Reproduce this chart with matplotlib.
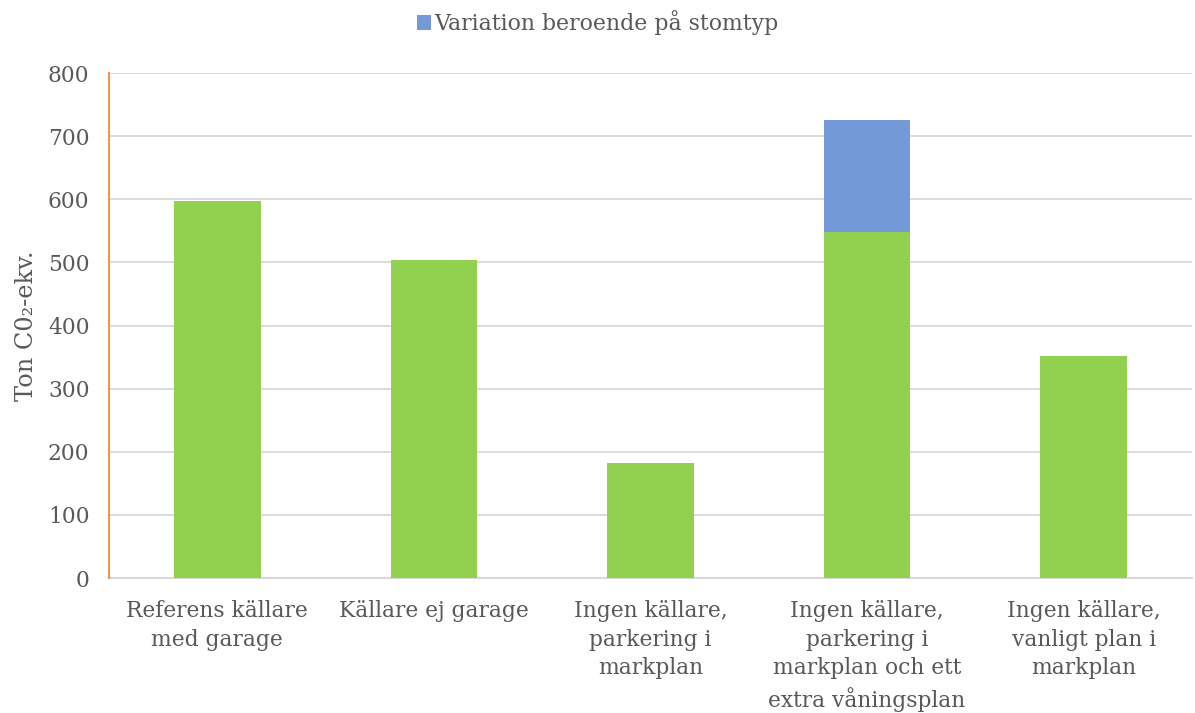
import matplotlib
matplotlib.use("Agg")
import matplotlib.pyplot as plt
from matplotlib.patches import Patch
import numpy as np

categories = [
    "Referens källare\nmed garage",
    "Källare ej garage",
    "Ingen källare,\nparkering i\nmarkplan",
    "Ingen källare,\nparkering i\nmarkplan och ett\nextra våningsplan",
    "Ingen källare,\nvanligt plan i\nmarkplan",
]
base_values = [598, 503, 182, 548, 352]
variation_values = [0, 0, 0, 178, 0]
y_ticks = [0, 100, 200, 300, 400, 500, 600, 700, 800]

green = "#92d050"
blue = "#7399d9"
text_color = "#595959"
grid_color = "#d9d9d9"

plt.rcParams["font.family"] = ["DejaVu Serif"]

fig = plt.figure(figsize=(11.95, 7.13), dpi=100)
ax = fig.add_axes([0.0912, 0.1893, 0.9063, 0.7083])

x = np.arange(len(categories))
ax.bar(x, base_values, width=0.4, color=green, zorder=3)
ax.bar(x, variation_values, width=0.4, bottom=base_values, color=blue, zorder=3)

ax.set_xlim(-0.5, len(categories) - 0.5)
ax.set_ylim(0, 800)
ax.set_yticks(y_ticks)
ax.set_xticks(x)
ax.set_xticklabels(categories, fontsize=15.7, color=text_color, linespacing=1.38,
                   va="top")
ax.tick_params(axis="y", labelsize=15.7, labelcolor=text_color, length=0, pad=14)
ax.tick_params(axis="x", length=0, pad=16)

ax.grid(axis="y", color=grid_color, linewidth=1.3, zorder=0)
for side in ["top", "right"]:
    ax.spines[side].set_visible(False)
ax.spines["bottom"].set_color(grid_color)
ax.spines["bottom"].set_linewidth(1.5)
ax.spines["left"].set_color("#f79646")
ax.spines["left"].set_linewidth(1.5)
ax.spines["left"].set_zorder(4)

ax.set_ylabel("Ton C0₂-ekv.", fontsize=17.3, color=text_color, labelpad=7)

handles = [Patch(facecolor=blue, edgecolor="none")]
fig.legend(handles, ["Variation beroende på stomtyp"], loc="center",
           bbox_to_anchor=(0.5, 0.968), frameon=False, fontsize=15.8,
           labelcolor=text_color, handlelength=0.65, handleheight=0.65,
           handletextpad=0.15)

fig.savefig("out.png", dpi=100)
